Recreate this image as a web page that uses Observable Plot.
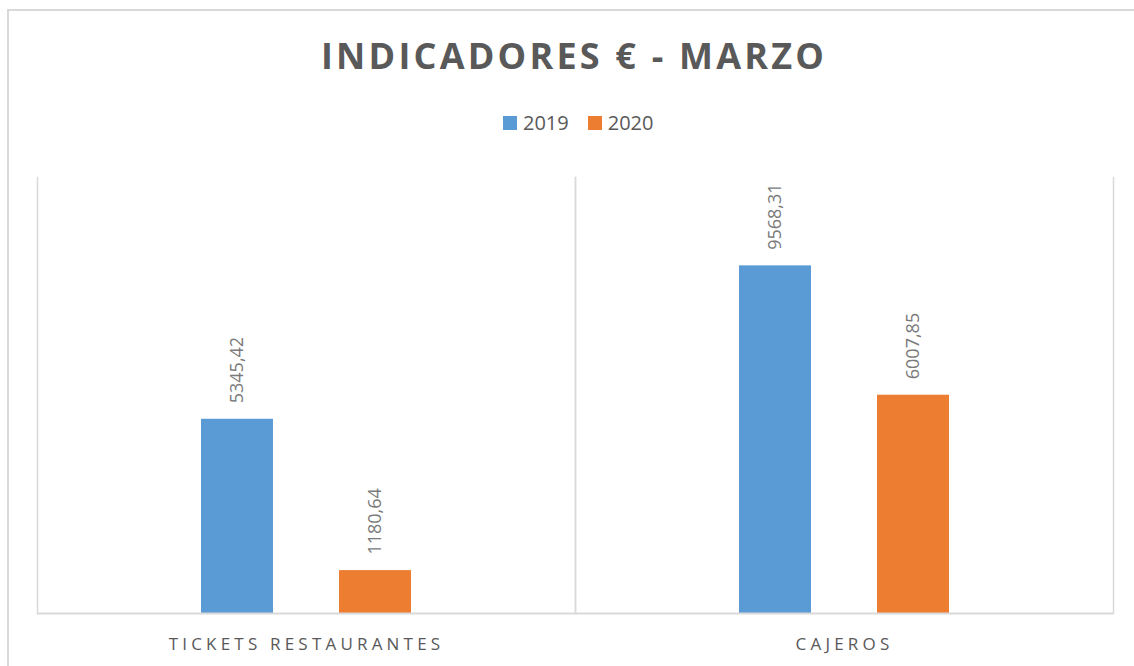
<!DOCTYPE html>
<html>
<head>
<meta charset="utf-8">
<script src="https://cdn.jsdelivr.net/npm/d3@7"></script>
<script src="https://cdn.jsdelivr.net/npm/@observablehq/plot@0.6"></script>
<style>
  html, body { margin: 0; padding: 0; background: #fff; overflow: hidden; }
  body { width: 1134px; height: 666px; position: relative; font-family: "Open Sans", sans-serif; }
  #border { position: absolute; left: 7px; top: 9px; width: 1200px; height: 700px;
            border-left: 2px solid #d9d9d9; border-top: 2px solid #d9d9d9; }
  #title { position: absolute; left: 321px; top: 38px; white-space: nowrap;
           font-size: 36px; line-height: 36px; font-weight: 700; letter-spacing: 3.2px; color: #595959; }
  #legend { position: absolute; left: 503px; top: 113px; display: flex; align-items: center;
            font-size: 20px; line-height: 20px; color: #595959; }
  .item { display: flex; align-items: center; margin-right: 19px; }
  .sw { width: 14px; height: 14px; margin-right: 6px; }
  #chart { position: absolute; left: 0; top: 155px; }
  #chart svg [aria-label="fx-axis tick label"] text { letter-spacing: 4.2px; }
</style>
</head>
<body>
<div id="border"></div>
<div id="title">INDICADORES € - MARZO</div>
<div id="legend"></div>
<div id="chart"></div>
<script>
const categories = ["TICKETS RESTAURANTES", "CAJEROS"];
const years = ["2019", "2020"];
const values2019 = [5345.42, 9568.31];
const values2020 = [1180.64, 6007.85];
const colors = ["#5B9BD5", "#ED7D31"];

const rows = [];
categories.forEach((c, i) => {
  rows.push({cat: c, year: years[0], value: values2019[i]});
  rows.push({cat: c, year: years[1], value: values2020[i]});
});
const fmt = v => v.toFixed(2).replace(".", ",");

const legend = document.getElementById("legend");
years.forEach((y, i) => {
  const it = document.createElement("div");
  it.className = "item";
  it.innerHTML = `<span class="sw" style="background:${colors[i]}"></span><span>${y}</span>`;
  legend.appendChild(it);
});

const grid = {stroke: "#d9d9d9", strokeWidth: 1.5, strokeOpacity: 1};
const chart = Plot.plot({
  width: 1134,
  height: 511,
  marginLeft: 37,
  marginRight: 21,
  marginTop: 22,
  marginBottom: 53,
  style: {fontFamily: "Open Sans, sans-serif", color: "#595959", background: "transparent"},
  fx: {domain: categories, padding: 0, label: null},
  x: {domain: years, paddingInner: 0.475, paddingOuter: 1.173, axis: null},
  y: {domain: [0, 12000], axis: null},
  color: {domain: years, range: colors},
  marks: [
    Plot.frame({anchor: "left", ...grid}),
    Plot.frame({anchor: "right", ...grid}),
    Plot.barY(rows, {fx: "cat", x: "year", y: "value", fill: "year"}),
    Plot.ruleY([0], {stroke: "#d9d9d9", strokeWidth: 2}),
    Plot.text(rows, {fx: "cat", x: "year", y: "value", text: d => fmt(d.value),
      rotate: -90, textAnchor: "start", dy: -16, fill: "#7a7a7a", fontSize: 18}),
    Plot.axisFx({anchor: "bottom", tickSize: 0, tickPadding: 24, fontSize: 17, label: null})
  ]
});
document.getElementById("chart").appendChild(chart);
</script>
</body>
</html>
